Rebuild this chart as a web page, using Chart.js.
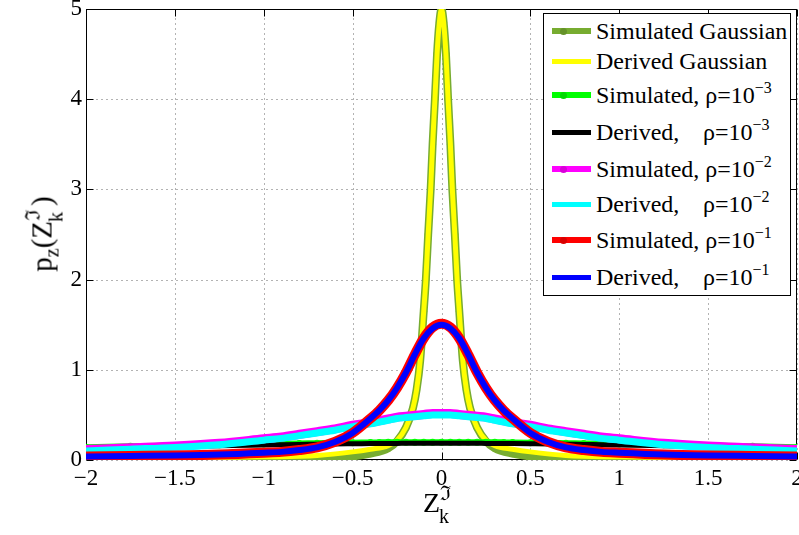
<!DOCTYPE html>
<html lang="en">
<head>
<meta charset="UTF-8">
<title>p_z(Z_k) densities</title>
<script src="https://cdn.jsdelivr.net/npm/chart.js"></script>
<style>
  body { margin: 0; background: #fff; }
  #wrap { position: relative; width: 799px; height: 535px; font-family: 'Liberation Serif', 'Times New Roman', serif; color: #000; }
  #chart { position: absolute; left: 0; top: 0; }
  #legend { position: absolute; left: 543px; top: 13px; width: 248px; height: 283px; border: 1px solid #000; background: #fff; box-sizing: border-box; }
  .row { position: absolute; left: 0; height: 26px; line-height: 26px; font-size: 24px; white-space: pre; width: 246px; }
  .sample { position: absolute; left: 8px; width: 39px; }
  .dot { position: absolute; left: 16px; width: 7px; height: 7px; border-radius: 50%; }
  .txt { position: absolute; left: 52px; top: 0; }
  .rho { position: absolute; left: 159px; top: 0; }
  .sup { font-size: 16px; position: relative; top: -10px; }
  .lab { position: absolute; font-size: 28px; line-height: 34px; white-space: pre; }
  .ss { display: inline-block; position: relative; width: 15px; height: 10px; }
  .ss .hi { position: absolute; left: 0; top: -26px; font-size: 20px; }
  .ss .lo { position: absolute; left: -1px; top: -3px; font-size: 20px; }
  .sub { font-size: 20px; position: relative; top: 7px; }
</style>
</head>
<body>
<div id="wrap">
  <canvas id="chart" width="799" height="535"></canvas>
  <div id="legend"></div>
  <div id="xlab" class="lab" style="left:423px; top:486px;">Z<span class="ss"><span class="hi">ℑ</span><span class="lo">k</span></span></div>
  <div id="ylab" class="lab" style="left:43px; top:234px; font-size:29px; transform: translate(-50%, -50%) rotate(-90deg);">p<span class="sub">z</span>(Z<span class="ss"><span class="hi">ℑ</span><span class="lo">k</span></span>)</div>
</div>
<script>
// x grids (Z_k) on which values were read
const gaussX = [-2, -1.5, -1, -0.7, -0.5, -0.4, -0.3, -0.25, -0.2, -0.16, -0.14, -0.12, -0.1, -0.088, -0.075, -0.061, -0.05, -0.037, -0.025, -0.012, 0,
                0.012, 0.025, 0.037, 0.05, 0.061, 0.075, 0.088, 0.1, 0.12, 0.14, 0.16, 0.2, 0.25, 0.3, 0.4, 0.5, 0.7, 1, 1.5, 2];
const wideX = [-2, -1.75, -1.5, -1.25, -1, -0.9, -0.8, -0.7, -0.6, -0.5, -0.4, -0.35, -0.3, -0.25, -0.2, -0.15, -0.1, -0.05, 0,
               0.05, 0.1, 0.15, 0.2, 0.25, 0.3, 0.35, 0.4, 0.5, 0.6, 0.7, 0.8, 0.9, 1, 1.25, 1.5, 1.75, 2];

// values on gaussX
const simGauss = [0.003, 0.004, 0.007, 0.015, 0.04, 0.07, 0.13, 0.21, 0.36, 0.58, 0.78, 1.1, 1.65, 2.0, 2.5, 3.0, 3.5, 4.0, 4.5, 4.85, 5.0,
                  4.85, 4.5, 4.0, 3.5, 3.0, 2.5, 2.0, 1.65, 1.1, 0.78, 0.58, 0.36, 0.21, 0.13, 0.07, 0.04, 0.015, 0.007, 0.004, 0.003];
const derGauss = [0.015, 0.022, 0.035, 0.05, 0.09, 0.12, 0.16, 0.22, 0.36, 0.58, 0.78, 1.1, 1.65, 2.0, 2.5, 3.0, 3.5, 4.0, 4.5, 4.85, 5.0,
                  4.85, 4.5, 4.0, 3.5, 3.0, 2.5, 2.0, 1.65, 1.1, 0.78, 0.58, 0.36, 0.22, 0.16, 0.12, 0.09, 0.05, 0.035, 0.022, 0.015];

// values on wideX
const sim3 = [0.142, 0.152, 0.162, 0.170, 0.178, 0.181, 0.184, 0.187, 0.190, 0.192, 0.194, 0.195, 0.196, 0.196, 0.197, 0.197, 0.197, 0.197, 0.197,
              0.197, 0.197, 0.197, 0.197, 0.196, 0.196, 0.195, 0.194, 0.192, 0.190, 0.187, 0.184, 0.181, 0.178, 0.170, 0.162, 0.152, 0.142];
const der3 = [0.130, 0.140, 0.150, 0.158, 0.166, 0.169, 0.172, 0.175, 0.178, 0.180, 0.182, 0.183, 0.184, 0.184, 0.185, 0.185, 0.185, 0.185, 0.185,
              0.185, 0.185, 0.185, 0.185, 0.184, 0.184, 0.183, 0.182, 0.180, 0.178, 0.175, 0.172, 0.169, 0.166, 0.158, 0.150, 0.140, 0.130];
const sim2 = [0.115, 0.135, 0.155, 0.185, 0.235, 0.255, 0.285, 0.315, 0.345, 0.385, 0.415, 0.435, 0.455, 0.475, 0.485, 0.495, 0.505, 0.515, 0.515,
              0.515, 0.505, 0.495, 0.485, 0.475, 0.455, 0.435, 0.415, 0.385, 0.345, 0.315, 0.285, 0.255, 0.235, 0.185, 0.155, 0.135, 0.115];
const der2 = [0.10, 0.12, 0.14, 0.17, 0.22, 0.24, 0.27, 0.30, 0.33, 0.37, 0.40, 0.42, 0.44, 0.46, 0.47, 0.48, 0.49, 0.50, 0.50,
              0.50, 0.49, 0.48, 0.47, 0.46, 0.44, 0.42, 0.40, 0.37, 0.33, 0.30, 0.27, 0.24, 0.22, 0.17, 0.14, 0.12, 0.10];
const sim1 = [0.04, 0.045, 0.05, 0.06, 0.08, 0.09, 0.11, 0.14, 0.20, 0.30, 0.46, 0.55, 0.66, 0.80, 0.97, 1.17, 1.35, 1.47, 1.51,
              1.47, 1.35, 1.17, 0.97, 0.80, 0.66, 0.55, 0.46, 0.30, 0.20, 0.14, 0.11, 0.09, 0.08, 0.06, 0.05, 0.045, 0.04];
const der1 = [0.04, 0.045, 0.05, 0.06, 0.08, 0.09, 0.11, 0.14, 0.20, 0.30, 0.46, 0.55, 0.66, 0.80, 0.97, 1.17, 1.35, 1.46, 1.50,
              1.46, 1.35, 1.17, 0.97, 0.80, 0.66, 0.55, 0.46, 0.30, 0.20, 0.14, 0.11, 0.09, 0.08, 0.06, 0.05, 0.045, 0.04];

const xTicks = [-2, -1.5, -1, -0.5, 0, 0.5, 1, 1.5, 2];
const yTicks = [0, 1, 2, 3, 4, 5];

const seriesNames = ['Simulated Gaussian', 'Derived Gaussian', 'Simulated, ', 'Derived,', 'Simulated, ', 'Derived,', 'Simulated, ', 'Derived,'];
const seriesRho = [null, null, '−3', '−3', '−2', '−2', '−1', '−1'];

const FONT = '"Liberation Serif", "Times New Roman", serif';

function pts(xs, ys) { return xs.map((x, i) => ({ x: x, y: ys[i] })); }

// drawn in plot order: later series on top
const specs = [
  { xs: gaussX, ys: simGauss, color: '#77AC30', width: 8, sim: true },
  { xs: gaussX, ys: derGauss, color: '#FFFF00', width: 5, sim: false },
  { xs: wideX, ys: sim3, color: '#00FF00', width: 6, sim: true },
  { xs: wideX, ys: der3, color: '#000000', width: 5, sim: false },
  { xs: wideX, ys: sim2, color: '#FF00FF', width: 9, sim: true },
  { xs: wideX, ys: der2, color: '#00FFFF', width: 7, sim: false },
  { xs: wideX, ys: sim1, color: '#FF0000', width: 10, sim: true },
  { xs: wideX, ys: der1, color: '#0000FF', width: 6, sim: false }
];

const datasets = specs.map((s, i) => ({
  label: seriesNames[i] + (seriesRho[i] ? 'ρ=10^' + seriesRho[i] : ''),
  data: pts(s.xs, s.ys),
  borderColor: s.color,
  backgroundColor: s.color,
  borderWidth: s.width,
  pointRadius: s.sim ? 3.5 : 0,
  pointBorderWidth: 0,
  pointBackgroundColor: s.color,
  cubicInterpolationMode: 'monotone',
  order: specs.length - i
}));

// grid, inner tick marks and box, MATLAB style
const axesBox = {
  id: 'axesBox',
  beforeDatasetsDraw(chart) {
    const { ctx, chartArea: a, scales } = chart;
    const L = Math.round(a.left) + 0.5, R = Math.round(a.right) - 0.5;
    const T = Math.round(a.top) + 0.5, B = Math.round(a.bottom) - 0.5;
    ctx.save();
    ctx.lineWidth = 1;
    ctx.strokeStyle = 'rgba(0,0,0,0.6)';
    ctx.setLineDash([1, 4]);
    xTicks.forEach(v => {
      const px = Math.round(scales.x.getPixelForValue(v)) + 0.5;
      ctx.beginPath(); ctx.moveTo(px, B); ctx.lineTo(px, T); ctx.stroke();
    });
    yTicks.forEach(v => {
      const py = Math.round(scales.y.getPixelForValue(v)) + 0.5;
      ctx.beginPath(); ctx.moveTo(L, py); ctx.lineTo(R, py); ctx.stroke();
    });
    ctx.setLineDash([]);
    ctx.strokeStyle = '#000';
    const tl = 7;
    xTicks.forEach(v => {
      const px = Math.round(scales.x.getPixelForValue(v)) + 0.5;
      ctx.beginPath(); ctx.moveTo(px, B); ctx.lineTo(px, B - tl);
      ctx.moveTo(px, T); ctx.lineTo(px, T + tl); ctx.stroke();
    });
    yTicks.forEach(v => {
      const py = Math.round(scales.y.getPixelForValue(v)) + 0.5;
      ctx.beginPath(); ctx.moveTo(L, py); ctx.lineTo(L + tl, py);
      ctx.moveTo(R, py); ctx.lineTo(R - tl, py); ctx.stroke();
    });
    ctx.strokeRect(L, T, R - L, B - T);
    ctx.restore();
  }
};

function noPad(s) { s.paddingTop = 0; s.paddingBottom = 0; s.paddingLeft = 0; s.paddingRight = 0; }

function draw() {
  new Chart(document.getElementById('chart').getContext('2d'), {
    type: 'line',
    data: { datasets: datasets },
    options: {
      responsive: false,
      animation: false,
      events: [],
      layout: { padding: { top: 9, right: 2, left: 0, bottom: 0 }, autoPadding: false },
      plugins: { legend: { display: false }, tooltip: { enabled: false } },
      scales: {
        x: {
          type: 'linear', min: -2, max: 2,
          grid: { display: false, drawTicks: false }, border: { display: false },
          afterFit: s => { s.height = 75; noPad(s); },
          afterBuildTicks: s => { s.ticks = xTicks.map(v => ({ value: v })); },
          ticks: {
            color: '#000', padding: 5, maxRotation: 0, autoSkip: false,
            font: { family: FONT, size: 23 },
            callback: v => (v < 0 ? '−' + Math.abs(v) : String(v))
          }
        },
        y: {
          type: 'linear', min: 0, max: 5,
          grid: { display: false, drawTicks: false }, border: { display: false },
          afterFit: s => { s.width = 86; noPad(s); },
          afterBuildTicks: s => { s.ticks = yTicks.map(v => ({ value: v })); },
          ticks: { color: '#000', padding: 4, font: { family: FONT, size: 23 } }
        }
      }
    },
    plugins: [axesBox]
  });
}

// legend with superscripts, rows at MATLAB spacing
const rowCenters = [17, 47, 81, 118, 155, 190, 226, 263];
const legend = document.getElementById('legend');
specs.forEach((s, i) => {
  const row = document.createElement('div');
  row.className = 'row';
  row.style.top = (rowCenters[i] - 13) + 'px';
  const h = s.sim ? 6 : 5;
  let html = '<div class="sample" style="top:' + (13 - h / 2) + 'px;height:' + h + 'px;background:' + s.color + '"></div>';
  if (s.sim) html += '<div class="dot" style="top:9.5px;background:' + s.color + ';filter:brightness(0.85)"></div>';
  html += '<span class="txt">' + seriesNames[i];
  if (seriesRho[i] && s.sim) html += 'ρ=10<span class="sup">' + seriesRho[i] + '</span>';
  html += '</span>';
  if (seriesRho[i] && !s.sim) html += '<span class="rho">ρ=10<span class="sup">' + seriesRho[i] + '</span></span>';
  row.innerHTML = html;
  legend.appendChild(row);
});

if (document.fonts && document.fonts.load) {
  document.fonts.load('23px "Liberation Serif"').then(draw, draw);
} else {
  draw();
}
</script>
</body>
</html>
